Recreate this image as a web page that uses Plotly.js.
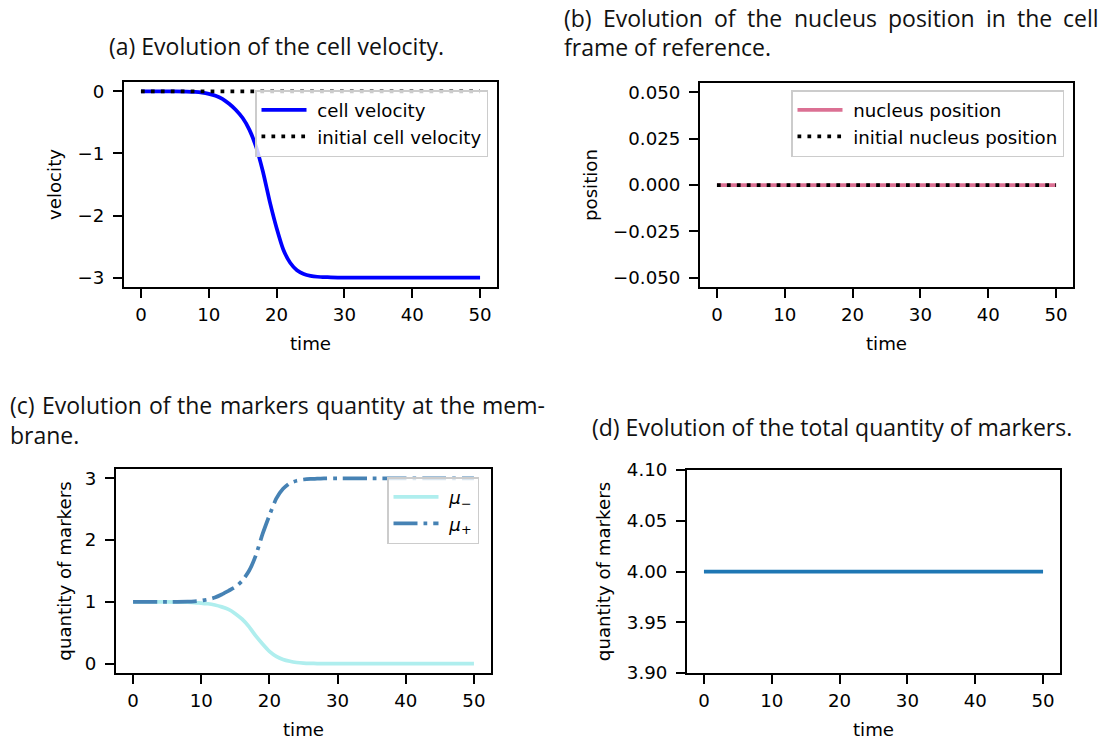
<!DOCTYPE html>
<html><head><meta charset="utf-8">
<script src="https://cdn.plot.ly/plotly-3.0.1.min.js"></script>
<style>html,body{margin:0;padding:0;background:#fff;} #chart{width:1105px;height:742px;}</style>
</head><body><div id="chart"></div>
<script>
// ---- data ----
const time = [0, 5, 8, 9, 10, 11, 12, 13, 14, 15, 16, 17, 18, 19, 20, 21, 22, 23, 24, 25, 26, 27, 28, 30, 35, 40, 45, 50];
const cellVelocity = [0, 0, -0.01, -0.02, -0.04, -0.07, -0.12, -0.2, -0.3, -0.43, -0.62, -0.9, -1.3, -1.78, -2.2, -2.55, -2.76, -2.88, -2.94, -2.97, -2.985, -2.99, -2.995, -3, -3, -3, -3, -3];
const muMinus = [1, 1, 0.995, 0.99, 0.98, 0.97, 0.95, 0.92, 0.88, 0.81, 0.72, 0.6, 0.45, 0.32, 0.2, 0.12, 0.07, 0.04, 0.02, 0.01, 0.005, 0.003, 0.002, 0, 0, 0, 0, 0];
const muPlus = [1, 1, 1.005, 1.01, 1.02, 1.04, 1.07, 1.12, 1.18, 1.24, 1.34, 1.5, 1.75, 2.1, 2.4, 2.67, 2.83, 2.92, 2.96, 2.98, 2.99, 2.993, 2.997, 3, 3, 3, 3, 3];
const timeEnds = [0, 50];
const initialVelocity = [0, 0];
const nucleusPosition = [0, 0];
const initialNucleusPosition = [0, 0];
const totalMarkers = [4, 4];
const xTicks = [0, 10, 20, 30, 40, 50];
const velocityTicks = [0, -1, -2, -3];
const positionTicks = [0.05, 0.025, 0, -0.025, -0.05];
const muTicks = [0, 1, 2, 3];
const totalTicks = [3.9, 3.95, 4.0, 4.05, 4.1];

const W = 1105, H = 742;
const px = x => x / W;
const py = y => 1 - y / H;

const dv = 'DejaVu Sans';
const FS = 18.2;
const tickFont = {family: dv, size: FS, color: '#000'};
const labFont = {family: dv, size: FS, color: '#000'};
const ttlFont = {family: 'Open Sans', size: 23, color: '#111'};
const gap = '\u00a0';

function ax(extra) {
  return Object.assign({
    showline: true, mirror: true, linecolor: '#000', linewidth: 2,
    ticks: 'outside', ticklen: 9, tickwidth: 2, tickcolor: '#000',
    showgrid: false, zeroline: false, tickfont: tickFont, fixedrange: true
  }, extra);
}
function xax(dom, anchor) {
  return ax({domain: dom, anchor: anchor, range: [-2.5, 52.5], tickvals: xTicks,
    ticklabelstandoff: 1, title: {text: 'time', font: labFont, standoff: 13}});
}
function yax(dom, anchor, range, tv, fmt, label, so) {
  return ax({domain: dom, anchor: anchor, range: range, tickvals: tv, tickformat: fmt,
    ticklabelstandoff: 5, title: {text: label, font: labFont, standoff: so}});
}

const dotDash = '3.75px,6.2px';
const dashDot = '24px,6px,3.75px,6px';
const smooth = {shape: 'spline', smoothing: 0.5};

const traces = [
  {x: time, y: cellVelocity, xaxis: 'x', yaxis: 'y', mode: 'lines', name: gap + 'cell velocity',
   line: Object.assign({color: '#0000ff', width: 3.75}, smooth), legend: 'legend'},
  {x: timeEnds, y: initialVelocity, xaxis: 'x', yaxis: 'y', mode: 'lines', name: gap + 'initial cell velocity',
   line: {color: '#000', width: 3.75, dash: dotDash}, legend: 'legend'},
  {x: timeEnds, y: nucleusPosition, xaxis: 'x2', yaxis: 'y2', mode: 'lines', name: gap + 'nucleus position',
   line: {color: '#db7093', width: 3.75}, legend: 'legend2'},
  {x: timeEnds, y: initialNucleusPosition, xaxis: 'x2', yaxis: 'y2', mode: 'lines', name: gap + 'initial nucleus position',
   line: {color: '#000', width: 3.75, dash: dotDash}, legend: 'legend2'},
  {x: time, y: muMinus, xaxis: 'x3', yaxis: 'y3', mode: 'lines', name: gap + '<i>μ</i><sub>−</sub>',
   line: Object.assign({color: '#afeeee', width: 3.75}, smooth), legend: 'legend3'},
  {x: time, y: muPlus, xaxis: 'x3', yaxis: 'y3', mode: 'lines', name: gap + '<i>μ</i><sub>+</sub>',
   line: Object.assign({color: '#4682b4', width: 3.75, dash: dashDot}, smooth), legend: 'legend3'},
  {x: timeEnds, y: totalMarkers, xaxis: 'x4', yaxis: 'y4', mode: 'lines', name: 'total',
   line: {color: '#1f77b4', width: 3.75}, showlegend: false}
];

function leg(right, top) {
  return {x: px(right), y: py(top), xanchor: 'right', yanchor: 'top',
    bgcolor: 'rgba(255,255,255,0.8)', bordercolor: '#cccccc', borderwidth: 1.5,
    font: {family: dv, size: FS, color: '#000'}, itemwidth: 45};
}

const annotations = [];
function ann(text, x, y, xanchor) {
  annotations.push({text: text, xref: 'paper', yref: 'paper', x: px(x), y: py(y),
    xanchor: xanchor || 'center', yanchor: 'middle', showarrow: false, font: ttlFont});
}
// justified first lines (as in the reference caption text)
const measureCtx = document.createElement('canvas').getContext('2d');
measureCtx.font = '23px "Open Sans"';
function justify(line, x0, x1, y) {
  const words = line.split(' ');
  const ws = words.map(w => measureCtx.measureText(w).width);
  const total = ws.reduce((a, b) => a + b, 0);
  const sp = (x1 - x0 - total) / (words.length - 1);
  let x = x0;
  words.forEach((w, i) => { ann(w, x, y, 'left'); x += ws[i] + sp; });
}
ann('(a) Evolution of the cell velocity.', 276, 46);
justify('(b) Evolution of the nucleus position in the cell', 562, 1097, 18);
ann('frame of reference.', 562, 47, 'left');
justify('(c) Evolution of the markers quantity at the mem-', 8, 543, 405);
ann('brane.', 8, 435, 'left');
ann('(d) Evolution of the total quantity of markers.', 831.5, 427);

const layout = {
  width: W, height: H, margin: {l: 0, r: 0, t: 0, b: 0},
  paper_bgcolor: '#fff', plot_bgcolor: '#fff',
  xaxis: xax([px(124), px(497)], 'y'),
  yaxis: yax([py(287), py(82)], 'x', [-3.15, 0.15], velocityTicks, 'd', 'velocity', 11),
  xaxis2: xax([px(700), px(1073)], 'y2'),
  yaxis2: yax([py(287), py(83)], 'x2', [-0.055, 0.055], positionTicks, '.3f', 'position', 11),
  xaxis3: xax([px(116), px(491)], 'y3'),
  yaxis3: yax([py(673), py(469)], 'x3', [-0.15, 3.15], muTicks, 'd', 'quantity of markers', 8),
  xaxis4: xax([px(687), px(1060)], 'y4'),
  yaxis4: yax([py(673), py(470)], 'x4', [3.9, 4.1], totalTicks, '.2f', 'quantity of markers', 11),
  legend: leg(488, 90),
  legend2: leg(1064, 90),
  legend3: leg(479, 477),
  showlegend: true,
  annotations: annotations
};

Plotly.newPlot('chart', traces, layout, {displayModeBar: false, staticPlot: true});
</script>
</body></html>
